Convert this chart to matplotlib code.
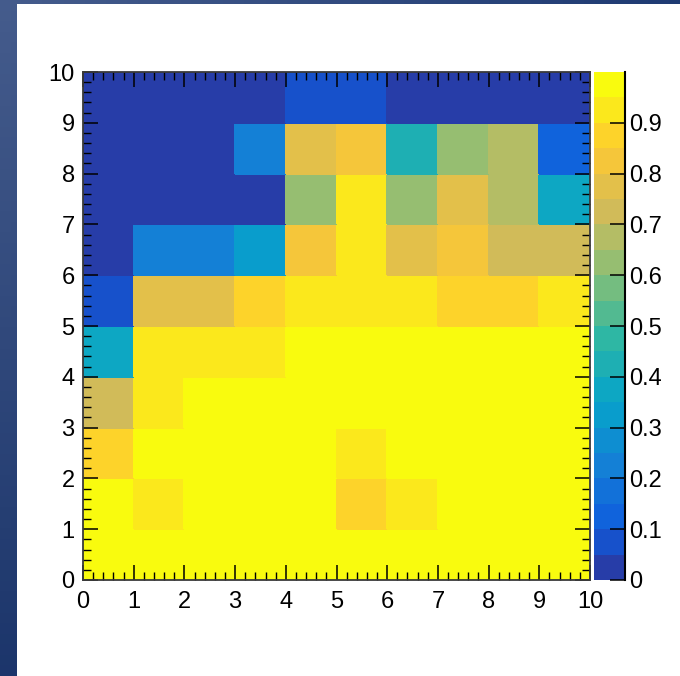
import numpy as np
import matplotlib
matplotlib.use("Agg")
import matplotlib.pyplot as plt
from matplotlib.colors import LinearSegmentedColormap, ListedColormap, BoundaryNorm
from matplotlib.patches import Rectangle
from matplotlib.ticker import MultipleLocator

plt.rcParams['font.family'] = ['Liberation Sans', 'DejaVu Sans']

# bin edges of the 10x10 histogram
x_edges = np.arange(0, 11)
y_edges = np.arange(0, 11)

# bin contents, one list per row, from y=0..1 up to y=9..10
row_y0 = [0.98, 0.98, 0.98, 0.98, 0.98, 0.98, 0.98, 0.98, 0.98, 0.98]
row_y1 = [0.98, 0.92, 0.98, 0.98, 0.98, 0.87, 0.92, 0.98, 0.98, 0.98]
row_y2 = [0.87, 0.98, 0.98, 0.98, 0.98, 0.92, 0.98, 0.98, 0.98, 0.98]
row_y3 = [0.72, 0.92, 0.98, 0.98, 0.98, 0.98, 0.98, 0.98, 0.98, 0.98]
row_y4 = [0.37, 0.92, 0.92, 0.92, 0.98, 0.98, 0.98, 0.98, 0.98, 0.98]
row_y5 = [0.08, 0.78, 0.78, 0.87, 0.92, 0.92, 0.92, 0.87, 0.87, 0.92]
row_y6 = [0.02, 0.22, 0.22, 0.32, 0.82, 0.92, 0.78, 0.82, 0.72, 0.72]
row_y7 = [0.02, 0.02, 0.02, 0.02, 0.62, 0.92, 0.62, 0.78, 0.68, 0.37]
row_y8 = [0.02, 0.02, 0.02, 0.22, 0.78, 0.82, 0.43, 0.62, 0.68, 0.12]
row_y9 = [0.02, 0.02, 0.02, 0.02, 0.08, 0.08, 0.02, 0.02, 0.02, 0.02]
z = np.array([row_y0, row_y1, row_y2, row_y3, row_y4,
              row_y5, row_y6, row_y7, row_y8, row_y9])

z_levels = np.linspace(0, 1, 21)
cbar_ticks = [0, 0.1, 0.2, 0.3, 0.4, 0.5, 0.6, 0.7, 0.8, 0.9]
cbar_labels = ['0', '0.1', '0.2', '0.3', '0.4', '0.5', '0.6', '0.7', '0.8', '0.9']

# ROOT kBird palette, 20 contour colours picked like THistPainter does
stops = [0.0, 0.125, 0.25, 0.375, 0.5, 0.625, 0.75, 0.875, 1.0]
red = [0.2082, 0.0592, 0.0780, 0.0232, 0.1802, 0.5301, 0.8186, 0.9956, 0.9764]
green = [0.1664, 0.3599, 0.5041, 0.6419, 0.7178, 0.7492, 0.7328, 0.7862, 0.9832]
blue = [0.5293, 0.8684, 0.8385, 0.7914, 0.6425, 0.4662, 0.3499, 0.1968, 0.0539]
bird = LinearSegmentedColormap.from_list(
    'bird', list(zip(stops, zip(red, green, blue))), N=255)
ndiv = len(z_levels) - 1
band_cols = [bird(int((i + 0.99) * 255 / ndiv) / 254) for i in range(ndiv)]
cmap = ListedColormap(band_cols)
norm = BoundaryNorm(z_levels, cmap.N)

W, H = 680, 676
fig = plt.figure(figsize=(W / 100, H / 100), dpi=100)

# slide-like gradient border (left and top)
bg = fig.add_axes([0, 0, 1, 1], zorder=-10)
tl = np.array([0.27, 0.36, 0.55])
tr = np.array([0.12, 0.23, 0.45])
bl = np.array([0.11, 0.21, 0.42])
br = np.array([0.10, 0.20, 0.40])
u = np.linspace(0, 1, 64)[None, :, None]
v = np.linspace(0, 1, 64)[:, None, None]
grad = (1 - u) * (1 - v) * tl + u * (1 - v) * tr + (1 - u) * v * bl + u * v * br
bg.imshow(grad, extent=[0, 1, 0, 1], aspect='auto')
bg.add_patch(Rectangle((17 / W, 0), 1 - 17 / W, 1 - 4 / H,
                       transform=bg.transAxes, color='white', lw=0))
bg.set_xlim(0, 1)
bg.set_ylim(0, 1)
bg.axis('off')

ax = fig.add_axes([83 / W, (H - 580) / H, 507 / W, 508 / H])
mesh = ax.pcolormesh(x_edges, y_edges, z, cmap=cmap, norm=norm,
                     edgecolors='face', linewidth=0.3)
ax.set_xlim(0, 10)
ax.set_ylim(0, 10)
ax.xaxis.set_major_locator(MultipleLocator(1))
ax.yaxis.set_major_locator(MultipleLocator(1))
ax.xaxis.set_minor_locator(MultipleLocator(0.2))
ax.yaxis.set_minor_locator(MultipleLocator(0.2))
ax.tick_params(which='both', direction='in', top=True, right=True,
               colors='black', labelsize=17)
ax.tick_params(which='major', length=11, width=1.1)
ax.tick_params(which='minor', length=5.5, width=1.0)
ax.tick_params(axis='x', pad=8)
ax.tick_params(axis='y', pad=6)
for sp in ax.spines.values():
    sp.set_color('#3a3a3a')
    sp.set_linewidth(1.3)

cax = fig.add_axes([594 / W, (H - 580) / H, 31 / W, 508 / H])
cb = fig.colorbar(mesh, cax=cax, ticks=cbar_ticks, drawedges=False)
cb.ax.set_yticklabels(cbar_labels)
cb.outline.set_visible(False)
cax.tick_params(which='both', direction='in', right=True, left=False,
                length=11, width=1.1, labelsize=17, pad=3)
cax.minorticks_off()
cax.plot([1, 1], [0, 1], transform=cax.transAxes, color='black',
         lw=1.5, clip_on=False)

fig.savefig('out.png', dpi=100)
